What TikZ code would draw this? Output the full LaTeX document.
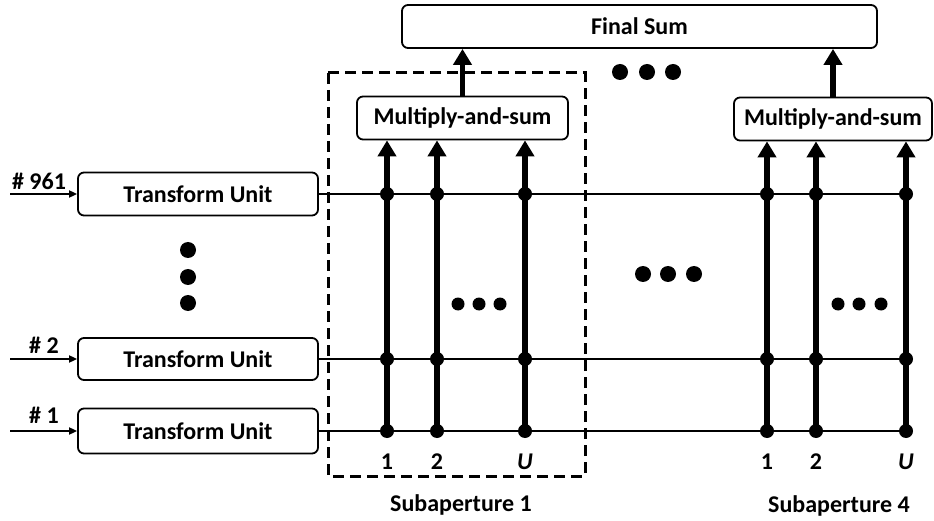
\documentclass[tikz,border=0pt]{standalone}
\usepackage{fontspec}
\setmainfont{Carlito}
\usetikzlibrary{arrows.meta}
\tikzset{
  unitbox/.style={draw, line width=1.8pt, rounded corners=6pt, inner sep=0pt,
    font=\fontsize{24}{28}\selectfont\bfseries},
  lbl/.style={inner sep=0pt, font=\fontsize{24}{28}\selectfont\bfseries},
  feed/.style={line width=5.5pt, -{Triangle[width=18pt,length=16pt]}},
  inarrow/.style={line width=1.8pt, -{Triangle[width=7pt,length=8pt]}},
  bus/.style={line width=1.8pt},
  tap/.style={fill, circle, inner sep=0pt, minimum size=14pt},
  bigdot/.style={fill, circle, inner sep=0pt, minimum size=16pt},
  smalldot/.style={fill, circle, inner sep=0pt, minimum size=13pt},
  groupbox/.style={draw, line width=3pt, dash pattern=on 11pt off 6pt},
}
\begin{document}
\begin{tikzpicture}[x=1pt,y=-1pt]
\useasboundingbox (0,0) rectangle (934,521);

% summation stages
\node[unitbox, minimum width=475pt, minimum height=43pt] (fs) at (639.5,26.5) {Final Sum};
\node[unitbox, minimum width=211pt, minimum height=43pt] (ms1) at (462.5,118) {Multiply-and-sum};
\node[unitbox, minimum width=198pt, minimum height=43pt] (ms4) at (833,119) {Multiply-and-sum};

% transform units
\node[unitbox, minimum width=240pt, minimum height=43pt] (tu961) at (198,194) {Transform Unit};
\node[unitbox, minimum width=240pt, minimum height=42pt] (tu2) at (198,359) {Transform Unit};
\node[unitbox, minimum width=240pt, minimum height=45pt] (tu1) at (198,431) {Transform Unit};

% inputs
\coordinate (in961) at (10,194);
\coordinate (in2) at (10,359);
\coordinate (in1) at (10,431);
\draw[inarrow] (in961) -- (tu961.west);
\draw[inarrow] (in2) -- (tu2.west);
\draw[inarrow] (in1) -- (tu1.west);
\node[lbl] (n961) at (39,181) {\# 961};
\node[lbl] (n2) at (44,345) {\# 2};
\node[lbl] (n1) at (44,415) {\# 1};

% buses
\coordinate (e961) at (906,194);
\coordinate (e2) at (906,359);
\coordinate (e1) at (906,431);
\draw[bus] (tu961.east) -- (e961);
\draw[bus] (tu2.east) -- (e2);
\draw[bus] (tu1.east) -- (e1);

% subaperture group outline
\draw[groupbox] (328,73) rectangle (585,476);

% antenna element taps
\foreach \x/\name in {387/a1, 437/a2, 525/aU} {
  \coordinate (\name) at (\x,431);
  \draw[feed] (\name) -- (\name |- ms1.south);
  \node[tap] at (\x,194) {};
  \node[tap] at (\x,359) {};
  \node[tap] at (\x,431) {};
}
\foreach \x/\name in {767/b1, 816/b2, 906/bU} {
  \coordinate (\name) at (\x,431);
  \draw[feed] (\name) -- (\name |- ms4.south);
  \node[tap] at (\x,194) {};
  \node[tap] at (\x,359) {};
  \node[tap] at (\x,431) {};
}

\draw[feed] (ms1.north) -- (ms1.north |- fs.south);
\draw[feed] (ms4.north) -- (ms4.north |- fs.south);

% element labels
\node[lbl] (l1) at (387,462) {1};
\node[lbl] (l2) at (437,462) {2};
\node[lbl] (lU) at (525,462) {\itshape U};
\node[lbl] (m1) at (767,462) {1};
\node[lbl] (m2) at (816,462) {2};
\node[lbl] (mU) at (906,462) {\itshape U};
\node[lbl] (s1) at (461,505) {Subaperture 1};
\node[lbl] (s4) at (839,506) {Subaperture 4};

% ellipses
\foreach \y in {250,277,303} \node[bigdot] at (188,\y) {};
\foreach \x in {620,647,673} \node[bigdot] at (\x,72) {};
\foreach \x in {643,668,694} \node[bigdot] at (\x,274) {};
\foreach \x in {458,479,500} \node[smalldot] at (\x,304) {};
\foreach \x in {838,859,881} \node[smalldot] at (\x,304) {};
\end{tikzpicture}
\end{document}
